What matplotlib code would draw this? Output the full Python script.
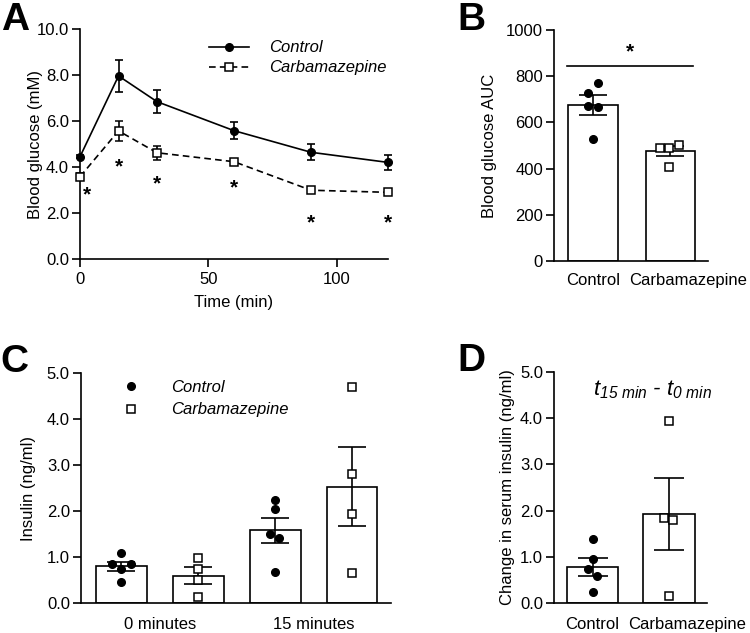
import numpy as np
import matplotlib
matplotlib.use("Agg")
from matplotlib import pyplot as plt
from matplotlib import transforms
from matplotlib.lines import Line2D
from matplotlib.ticker import FormatStrFormatter

# ---------------- data ----------------
# A: blood glucose over time
time_min = [0, 15, 30, 60, 90, 120]
glu_ctrl = [4.45, 7.96, 6.84, 5.58, 4.64, 4.20]
glu_ctrl_sem = [0.08, 0.70, 0.50, 0.36, 0.34, 0.34]
glu_carb = [3.58, 5.57, 4.62, 4.23, 2.99, 2.90]
glu_carb_sem = [0.14, 0.42, 0.31, 0.08, 0.08, 0.08]
sig_t = [2.7, 15, 30, 60, 90, 120]
sig_y = [2.80, 4.00, 3.27, 3.10, 1.55, 1.55]

# B: AUC
groups = ["Control", "Carbamazepine"]
auc_mean = [675, 475]
auc_sem = [41.5, 21]
auc_ctrl = [769, 729, 672, 667, 529]
auc_carb = [491, 491, 504, 408]
auc_ctrl_jit = [0.06, -0.065, -0.065, 0.06, 0.0]
auc_carb_jit = [-0.135, -0.015, 0.105, -0.015]

# C: insulin at 0 and 15 min
ins_labels = ["0 minutes", "15 minutes"]
ins_mean = [0.80, 0.59, 1.58, 2.53]
ins_sem = [0.10, 0.185, 0.27, 0.855]
ins_pts = [
    [1.08, 0.84, 0.84, 0.74, 0.45],
    [0.98, 0.75, 0.50, 0.12],
    [2.25, 2.04, 1.50, 1.42, 0.68],
    [4.69, 2.80, 1.93, 0.66],
]
ins_jit = [
    [0.0, -0.127, 0.12, 0.0, 0.0],
    [0.0, 0.0, 0.0, 0.0],
    [0.0, 0.0, -0.065, 0.055, 0.0],
    [0.0, 0.0, 0.0, 0.0],
]

# D: change in insulin
dins_mean = [0.77, 1.92]
dins_sem = [0.195, 0.775]
dins_ctrl = [1.39, 0.95, 0.73, 0.59, 0.23]
dins_carb = [3.93, 1.83, 1.80, 0.15]
dins_ctrl_jit = [0.0, 0.0, -0.06, 0.06, 0.0]
dins_carb_jit = [0.0, -0.065, 0.055, 0.0]

# ---------------- style ----------------
plt.rcParams["font.family"] = ["Liberation Sans", "DejaVu Sans"]
plt.rcParams["font.size"] = 12
plt.rcParams["mathtext.fontset"] = "custom"
plt.rcParams["mathtext.it"] = "Liberation Sans:italic"
plt.rcParams["mathtext.sf"] = "Liberation Sans:italic"
plt.rcParams["mathtext.rm"] = "Liberation Sans"
LW = 1.2
DASH = (0, (4, 2.5))

fig = plt.figure(figsize=(7.5, 6.33), dpi=100)


def style_axes(ax):
    for s in ["top", "right"]:
        ax.spines[s].set_visible(False)
    for s in ["left", "bottom"]:
        ax.spines[s].set_linewidth(LW)
    ax.tick_params(axis="y", length=6, width=LW, labelsize=12, pad=2)
    ax.tick_params(axis="x", length=6, width=LW, labelsize=12)


def bar_panel(ax, xpos, means, sems, width, capsize):
    ax.bar(xpos, means, width=width, color="white", edgecolor="black",
           linewidth=LW, zorder=1)
    ax.errorbar(xpos, means, yerr=sems, fmt="none", ecolor="black",
                elinewidth=LW, capsize=capsize, capthick=LW, zorder=3)


def scatter_pts(ax, x, vals, jit, filled):
    xs = [x + j for j in jit]
    if filled:
        ax.plot(xs, vals, "o", ms=5.5, color="black", zorder=4, clip_on=False)
    else:
        ax.plot(xs, vals, "s", ms=5.5, mfc="white", mec="black", mew=1.1,
                zorder=4, clip_on=False)


def shift_label(ax, idx, px):
    lbl = ax.get_xticklabels()[idx]
    off = transforms.ScaledTranslation(px / 100, 0, fig.dpi_scale_trans)
    lbl.set_transform(lbl.get_transform() + off)


# ---------------- A ----------------
axA = fig.add_axes([0.1067, 0.5908, 0.4107, 0.3634])
style_axes(axA)
axA.errorbar(time_min, glu_ctrl, yerr=glu_ctrl_sem, color="black", lw=LW,
             marker="o", ms=5.5, capsize=3, capthick=LW, elinewidth=LW,
             clip_on=False, zorder=3)
axA.errorbar(time_min, glu_carb, yerr=glu_carb_sem, color="black", lw=LW,
             ls=DASH, marker="s", ms=5.5, mfc="white", mew=1.1,
             capsize=3, capthick=LW, elinewidth=LW,
             clip_on=False, zorder=3)
for t, y in zip(sig_t, sig_y):
    axA.text(t, y, "*", ha="center", va="center", fontsize=15, fontweight="bold")
axA.set_xlim(0, 120)
axA.set_ylim(0, 10)
axA.set_xticks([0, 50, 100])
axA.set_yticks(np.arange(0, 10.1, 2))
axA.yaxis.set_major_formatter(FormatStrFormatter("%.1f"))
axA.set_xlabel("Time (min)", fontsize=12, va="center")
axA.xaxis.set_label_coords(0.5, -0.19)
axA.set_ylabel("Blood glucose (mM)", fontsize=12, va="center")
axA.yaxis.set_label_coords(-0.145, 0.5)
ha1 = Line2D([], [], color="black", lw=LW, marker="o", ms=5.5)
ha2 = Line2D([], [], color="black", lw=LW, ls=DASH, marker="s", ms=5.5,
             mfc="white", mew=1.1)
axA.legend(handles=[ha1, ha2], labels=["Control", "Carbamazepine"],
           loc="upper left", bbox_to_anchor=(0.42, 0.95), frameon=False,
           handlelength=2.4, handletextpad=1.2, labelspacing=0.3,
           borderpad=0, borderaxespad=0, prop={"style": "italic", "size": 12})

# ---------------- B ----------------
axB = fig.add_axes([0.7387, 0.5877, 0.2053, 0.3649])
style_axes(axB)
bar_panel(axB, [0, 1], auc_mean, auc_sem, 0.645, 10)
scatter_pts(axB, 0, auc_ctrl, auc_ctrl_jit, True)
scatter_pts(axB, 1, auc_carb, auc_carb_jit, False)
axB.plot([-0.335, 1.29], [844, 844], color="black", lw=LW)
axB.text(0.48, 905, "*", ha="center", va="center", fontsize=15, fontweight="bold")
axB.set_xlim(-0.503, 1.484)
axB.set_ylim(0, 1000)
axB.set_yticks(np.arange(0, 1001, 200))
axB.set_xticks([0, 1])
axB.set_xticklabels(groups)
axB.tick_params(axis="x", length=0, pad=9)
shift_label(axB, 1, 18)
axB.set_ylabel("Blood glucose AUC", fontsize=12, va="center")
axB.yaxis.set_label_coords(-0.416, 0.5)

# ---------------- C ----------------
axC = fig.add_axes([0.108, 0.0474, 0.4133, 0.3633])
style_axes(axC)
xc = [0, 1, 2, 3]
bar_panel(axC, xc, ins_mean, ins_sem, 0.66, 10)
for i in range(4):
    scatter_pts(axC, xc[i], ins_pts[i], ins_jit[i], i % 2 == 0)
axC.set_xlim(-0.526, 3.506)
axC.set_ylim(0, 5)
axC.set_yticks(np.arange(0, 5.1, 1))
axC.yaxis.set_major_formatter(FormatStrFormatter("%.1f"))
axC.set_xticks([0.5, 2.5])
axC.set_xticklabels(ins_labels)
axC.tick_params(axis="x", length=0, pad=10)
axC.set_ylabel("Insulin (ng/ml)", fontsize=12, va="center")
axC.yaxis.set_label_coords(-0.168, 0.5)
hc1 = Line2D([], [], ls="none", marker="o", ms=5.5, color="black")
hc2 = Line2D([], [], ls="none", marker="s", ms=5.5, mfc="white", mec="black",
             mew=1.1)
axC.legend(handles=[hc1, hc2], labels=["Control", "Carbamazepine"],
           loc="upper left", bbox_to_anchor=(0.135, 0.97),
           frameon=False, handlelength=1.0, handletextpad=1.9, labelspacing=0.45,
           borderpad=0, borderaxespad=0, prop={"style": "italic", "size": 12})

# ---------------- D ----------------
axD = fig.add_axes([0.7387, 0.0474, 0.204, 0.365])
style_axes(axD)
bar_panel(axD, [0, 1], dins_mean, dins_sem, 0.667, 11)
scatter_pts(axD, 0, dins_ctrl, dins_ctrl_jit, True)
scatter_pts(axD, 1, dins_carb, dins_carb_jit, False)
axD.set_xlim(-0.503, 1.497)
axD.set_ylim(0, 5)
axD.set_yticks(np.arange(0, 5.1, 1))
axD.yaxis.set_major_formatter(FormatStrFormatter("%.1f"))
axD.set_xticks([0, 1])
axD.set_xticklabels(groups)
axD.tick_params(axis="x", length=0, pad=10)
shift_label(axD, 1, 18)
axD.set_ylabel("Change in serum insulin (ng/ml)", fontsize=12, va="center")
axD.yaxis.set_label_coords(-0.307, 0.5)
axD.text(0.645, 0.925,
         r"$\mathsf{t}_{\mathsf{15\ min}}$ - $\mathsf{t}_{\mathsf{0\ min}}$",
         transform=axD.transAxes, ha="center", va="center", fontsize=16,
         style="italic")

# ---------------- panel letters ----------------
for lab, x, y in [("A", 15, 20), ("B", 471, 20), ("C", 14, 362), ("D", 471, 361)]:
    fig.text(x / 750, 1 - y / 633, lab, fontsize=28, fontweight="bold",
             ha="center", va="center")

fig.savefig("out.png", dpi=100)
